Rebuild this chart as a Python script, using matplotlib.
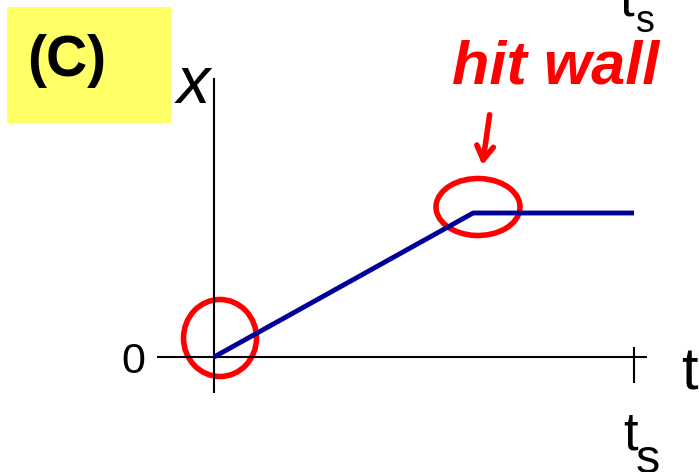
import matplotlib
matplotlib.use("Agg")
import matplotlib.pyplot as plt
from matplotlib.patches import Rectangle, Ellipse

plt.rcParams['font.family'] = ['Liberation Sans', 'DejaVu Sans']

# Position of the particle: moves at constant speed, then stops at the wall
t_s = 1.0
t_hit = 0.617
t_values = [0.0, t_hit, t_s]
x_values = [0.0, 1.0, 1.0]

W, H = 699, 472
fig = plt.figure(figsize=(W / 100, H / 100), dpi=100)
ax = fig.add_axes([0, 0, 1, 1])
ax.axis('off')

# data limits chosen so the origin sits left of centre with room for labels
t_per_px = 1 / 420.0
x_per_px = 1 / 144.0
ax.set_xlim(-214 * t_per_px, (W - 214) * t_per_px)
ax.set_ylim((357 - H) * x_per_px, 357 * x_per_px)


def fx(px):
    return px / W


def fy(py):
    return 1 - py / H


# axes
ax.plot([-0.136, 1.031], [0, 0], color='black', lw=1.5, solid_capstyle='butt')
ax.plot([0, 0], [-0.25, 1.94], color='black', lw=1.5, solid_capstyle='butt')
ax.plot([t_s, t_s], [-0.18, 0.07], color='black', lw=1.5, solid_capstyle='butt')

# trajectory
ax.plot(t_values, x_values, color='#000099', lw=3.5, solid_capstyle='butt')

# panel label
ax.add_patch(Rectangle((fx(7), fy(123)), fx(164), 116 / H, transform=ax.transAxes,
                       facecolor='#ffff66', edgecolor='none'))
ax.text(fx(67), fy(76), '(C)', transform=ax.transAxes, ha='center', va='baseline',
        fontsize=41, fontweight='bold')

# axis labels
ax.text(fx(177), fy(103), 'x', transform=ax.transAxes, ha='left', va='baseline',
        fontsize=48, fontstyle='italic')
ax.text(fx(133), fy(373), '0', transform=ax.transAxes, ha='center', va='baseline',
        fontsize=31)
ax.text(fx(681), fy(390), 't', transform=ax.transAxes, ha='left', va='baseline',
        fontsize=43)
ax.text(fx(623), fy(450), 't', transform=ax.transAxes, ha='left', va='baseline',
        fontsize=38)
ax.text(fx(636), fy(473), 's', transform=ax.transAxes, ha='left', va='baseline',
        fontsize=35)
ax.text(fx(619), fy(15), 't', transform=ax.transAxes, ha='left', va='baseline',
        fontsize=38)
ax.text(fx(636), fy(32), 's', transform=ax.transAxes, ha='left', va='baseline',
        fontsize=27)

# red annotations
red = '#ff0000'
ax.text(fx(452), fy(84), 'hit wall', transform=ax.transAxes, ha='left', va='baseline',
        fontsize=44, fontstyle='italic', fontweight='bold', color=red)
ax.annotate('', xy=(fx(482), fy(168)), xytext=(fx(490), fy(112)),
            xycoords='axes fraction', textcoords='axes fraction',
            arrowprops=dict(arrowstyle='->,head_length=1.0,head_width=0.6',
                            color=red, lw=4))
ax.add_patch(Ellipse((fx(478), fy(207)), 84 / W, 57 / H, angle=-4,
                     transform=ax.transAxes,
                     fill=False, edgecolor=red, lw=4))
ax.add_patch(Ellipse((fx(220), fy(338)), 73 / W, 77 / H, transform=ax.transAxes,
                     fill=False, edgecolor=red, lw=4))

fig.savefig('out.png', dpi=100)
